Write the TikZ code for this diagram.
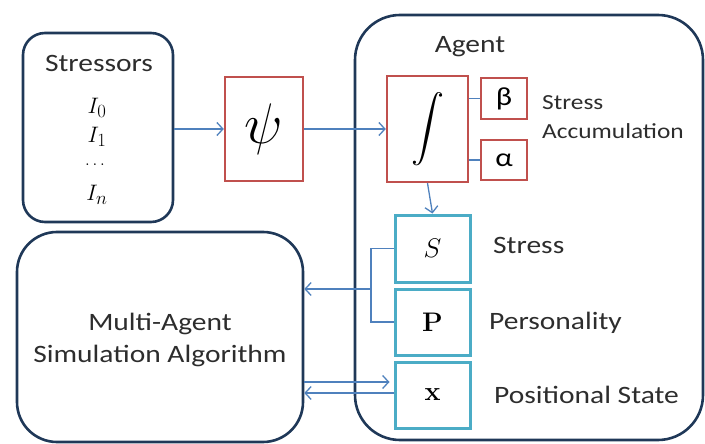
\documentclass[tikz,border=0pt]{standalone}
\usepackage[no-math]{fontspec}
\setmainfont{Carlito}
\usetikzlibrary{arrows.meta,calc}
\definecolor{navy}{RGB}{31,56,88}
\definecolor{brick}{RGB}{192,80,77}
\definecolor{aqua}{RGB}{75,172,198}
\definecolor{link}{RGB}{79,129,189}
\definecolor{ink}{RGB}{45,45,45}
% horizontally widened text
\newcommand\sx[1]{\scalebox{1.18}[1]{#1}}
\tikzset{
  container/.style={draw=navy, line width=2.6pt, rounded corners=#1, inner sep=0pt},
  redbox/.style={draw=brick, line width=2.4pt, inner sep=0pt},
  cyanbox/.style={draw=aqua, line width=3pt, inner sep=0pt, minimum width=75pt, minimum height=66pt},
  label/.style={text=ink, inner sep=0pt, font=\fontsize{25}{30}\selectfont},
  smalllabel/.style={text=ink, inner sep=0pt, font=\fontsize{21.5}{28}\selectfont, align=left},
  mathbig/.style={font=\fontsize{24.88}{30}\selectfont},
  arr/.style={draw=link, line width=1.3pt, -{Straight Barb[length=6pt,width=13pt,line width=1.3pt]}},
  wire/.style={draw=link, line width=1.3pt},
}
\begin{document}
\begin{tikzpicture}[x=1pt,y=-1pt]
\useasboundingbox (0,0) rectangle (705,444);

% outer containers
\node[container=22pt, minimum width=150pt, minimum height=189pt] (stress) at (98,127.5) {};
\node[container=45pt, minimum width=348pt, minimum height=425pt] (agent) at (529,227.5) {};
\node[container=40pt, minimum width=286pt, minimum height=210pt] (mas) at (160,337) {};

% stressor list
\node[label] (stitle) at (99,63) {\sx{Stressors}};
\node[inner sep=0pt, mathbig] (i0) at (97,108) {\scalebox{0.9}{$I_0$}};
\node[inner sep=0pt, mathbig] (i1) at (97,137) {\scalebox{0.9}{$I_1$}};
\node[inner sep=0pt, font=\fontsize{17.28}{18}\selectfont] (idots) at (95,165) {$\ldots$};
\node[inner sep=0pt, mathbig] (in) at (97,195) {\scalebox{0.9}{$I_n$}};

% transfer and accumulation
\node[redbox, minimum width=78pt, minimum height=104pt, mathbig] (psi) at (264,129) {\scalebox{2.3}{$\psi$}};
\node[redbox, minimum width=81pt, minimum height=106pt] (int) at (427.5,129) {\scalebox{3.3}{$\displaystyle\int$}};
\node[redbox, minimum width=46pt, minimum height=41pt, font=\fontsize{26}{30}\selectfont] (beta) at (504,98.5) {\sx{β}};
\node[redbox, minimum width=46pt, minimum height=40pt, font=\fontsize{26}{30}\selectfont] (alpha) at (504,160) {\sx{α}};

\node[label] (agenttitle) at (470,47) {\sx{Agent}};
\node[smalllabel, anchor=west] (acclabel) at (542,117) {\sx{Stress}\\[1pt]\sx{Accumulation}};

% agent state
\node[cyanbox, minimum height=67pt, mathbig] (S) at (432.5,248.5) {\scalebox{1.08}{$S$}};
\node[cyanbox, mathbig] (P) at (432.5,322) {\scalebox{1.08}{$\mathbf{P}$}};
\node[cyanbox, mathbig] (X) at (432.5,395) {\scalebox{1.08}{$\mathbf{x}$}};

\node[label, anchor=west] (slabel) at (493,245) {\sx{Stress}};
\node[label, anchor=west] (plabel) at (489,323) {\sx{Personality}};
\node[label, anchor=west] (xlabel) at (494,395) {\sx{Positional State}};

\node[label, align=center] (mastext) at (160,340) {\sx{Multi-Agent}\\[2pt]\sx{Simulation Algorithm}};

% connectors
\draw[arr] (stress.east |- psi.west) -- (psi.west);
\draw[arr] (psi.east) -- (int.west);
\draw[wire] (int.east |- beta.west) -- (beta.west);
\draw[wire] (int.east |- alpha.west) -- (alpha.west);
\draw[arr] (int.south) -- (S.north);

\coordinate (brk) at (371,289);
\draw[wire] (S.west) -| (brk) |- (P.west);
\draw[arr] (brk) -- (brk -| mas.east);

\coordinate (xin) at ([yshift=13pt]X.west);
\coordinate (xout) at ([yshift=2pt]X.west);
\draw[arr, shorten >=4pt] (xin -| mas.east) -- (xin);
\draw[arr] (xout) -- (xout -| mas.east);
\end{tikzpicture}
\end{document}
